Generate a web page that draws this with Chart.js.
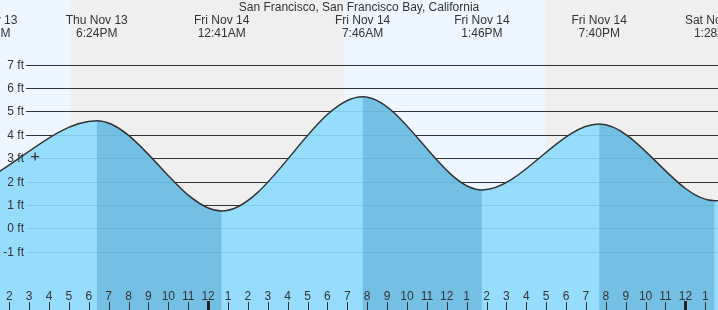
<!DOCTYPE html>
<html><head><meta charset="utf-8">
<script src="https://cdn.jsdelivr.net/npm/chart.js@4/dist/chart.umd.min.js"></script>
<style>html,body{margin:0;padding:0;background:#fff;overflow:hidden}#wrap{width:718px;height:310px;position:relative}</style>
</head><body><div id="wrap"><canvas id="c" width="718" height="310"></canvas></div>
<script>
const title = "San Francisco, San Francisco Bay, California";
// tide extremes, hours relative to Fri Nov 14 00:00
const extremeHours   = [-11.15, -5.6, 0.683, 7.767, 13.767, 19.667, 25.467, 32.4];
const extremeHeights = [2.1, 4.6, 0.74, 5.63, 1.64, 4.46, 1.18, 5.4];
const extremeDays    = ["Thu Nov 13","Thu Nov 13","Fri Nov 14","Fri Nov 14","Fri Nov 14","Fri Nov 14","Sat Nov 15","Sat Nov 15"];
const extremeTimes   = ["12:51PM","6:24PM","12:41AM","7:46AM","1:46PM","7:40PM","1:28AM","8:24AM"];
// night periods (hours)
const nightStarts = [-6.97, 16.98];
const nightEnds   = [6.85, 30.9];
// current time marker
const nowHour = -8.7;
const nowHeight = 3.07;
// y ticks
const yTicks = [-1, 0, 1, 2, 3, 4, 5, 6, 7];
const yTickLabels = ["-1 ft","0 ft","1 ft","2 ft","3 ft","4 ft","5 ft","6 ft","7 ft"];
// hour ticks
const hourTicks = [-10,-9,-8,-7,-6,-5,-4,-3,-2,-1,0,1,2,3,4,5,6,7,8,9,10,11,12,13,14,15,16,17,18,19,20,21,22,23,24,25];
const hourLabels = ["2","3","4","5","6","7","8","9","10","11","12","1","2","3","4","5","6","7","8","9","10","11","12","1","2","3","4","5","6","7","8","9","10","11","12","1"];
const midnightHours = [0, 24];

const FONT = '12px "Liberation Sans", Arial, sans-serif';
const TXT = '#333';

const tidePoints = extremeHours.map((h, i) => ({x: h, y: extremeHeights[i]}));

const decor = {
  id: 'decor',
  beforeDatasetsDraw(chart) {
    const {ctx, chartArea: a, scales: {x, y}} = chart;
    ctx.save();
    ctx.fillStyle = '#eef7ff';
    ctx.fillRect(a.left, a.top, a.right - a.left, a.bottom - a.top);
    ctx.fillStyle = '#efefef';
    nightStarts.forEach((s, i) => {
      const x0 = x.getPixelForValue(s), x1 = x.getPixelForValue(nightEnds[i]);
      ctx.fillRect(Math.round(x0), a.top, Math.round(x1) - Math.round(x0), a.bottom - a.top);
    });
    ctx.strokeStyle = '#333';
    ctx.lineWidth = 1;
    yTicks.forEach(v => {
      const py = Math.round(y.getPixelForValue(v)) + 0.5;
      ctx.beginPath();
      ctx.moveTo(26, py);
      ctx.lineTo(a.right, py);
      ctx.stroke();
    });
    ctx.restore();
  },
  afterDatasetsDraw(chart) {
    const {ctx, chartArea: a, scales: {x, y}} = chart;
    ctx.save();
    ctx.font = FONT;
    ctx.fillStyle = TXT;
    ctx.textAlign = 'right';
    ctx.textBaseline = 'alphabetic';
    yTicks.forEach((v, i) => {
      const py = Math.round(y.getPixelForValue(v));
      ctx.fillText(yTickLabels[i], 24, py + 4);
    });
    ctx.textAlign = 'center';
    hourTicks.forEach((h, i) => {
      const px = x.getPixelForValue(h);
      const isMid = midnightHours.includes(h);
      ctx.fillStyle = isMid ? '#222' : TXT;
      if (isMid) ctx.fillRect(Math.round(px) - 1, 301, 3, 9);
      else ctx.fillRect(Math.round(px), 302, 1, 8);
      ctx.fillStyle = TXT;
      ctx.fillText(hourLabels[i], px, 300);
    });
    extremeHours.forEach((h, i) => {
      const px = x.getPixelForValue(h);
      ctx.fillText(extremeDays[i], px, 24);
      ctx.fillText(extremeTimes[i], px, 37);
    });
    ctx.fillText(title, a.left + (a.right - a.left) / 2, 11);
    ctx.restore();
  }
};

new Chart(document.getElementById('c'), {
  type: 'line',
  data: {
    datasets: [{
      // now marker
      data: [{x: nowHour, y: nowHeight}],
      order: 0,
      showLine: false,
      fill: false,
      pointStyle: 'cross',
      pointRadius: 4,
      borderColor: '#333',
      borderWidth: 1.3,
      backgroundColor: '#333'
    }, {
      // curve stroke
      data: tidePoints,
      order: 1,
      borderColor: '#333',
      borderWidth: 1.5,
      fill: false,
      pointRadius: 0,
      cubicInterpolationMode: 'monotone'
    }, {
      // falling-tide overlay
      data: tidePoints,
      order: 2,
      borderColor: 'rgba(0,0,0,0)',
      borderWidth: 0,
      fill: 'start',
      backgroundColor: 'rgba(0,0,0,0)',
      pointRadius: 0,
      cubicInterpolationMode: 'monotone',
      segment: {
        backgroundColor: c => c.p1.parsed.y < c.p0.parsed.y ? 'rgba(80,164,203,0.5)' : 'rgba(0,0,0,0)'
      }
    }, {
      // water fill
      data: tidePoints,
      order: 3,
      borderColor: 'rgba(0,0,0,0)',
      borderWidth: 0,
      fill: 'start',
      backgroundColor: 'rgba(140,217,253,0.9)',
      pointRadius: 0,
      cubicInterpolationMode: 'monotone'
    }]
  },
  options: {
    responsive: false,
    animation: false,
    devicePixelRatio: 1,
    layout: {padding: 0, autoPadding: false},
    plugins: {legend: {display: false}, tooltip: {enabled: false}, title: {display: false}},
    scales: {
      x: {type: 'linear', display: false, min: -10.465, max: 25.64},
      y: {type: 'linear', display: false, min: -3.495, max: 9.767}
    }
  },
  plugins: [decor]
});
</script>
</body></html>
